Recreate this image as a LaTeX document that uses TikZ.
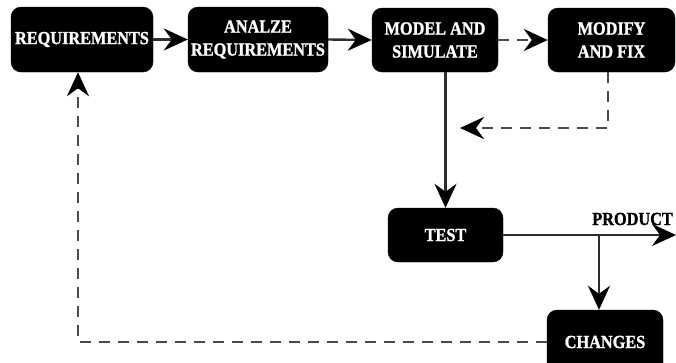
\documentclass[tikz,border=0pt]{standalone}
\usepackage{fontspec}
\setmainfont{Liberation Serif}
\newfontfamily\boxfont[FakeStretch=0.88,FakeBold=1.2]{Liberation Serif Bold}
\usetikzlibrary{arrows.meta}
\definecolor{linegray}{HTML}{2E2E2E}
\definecolor{dashgray}{HTML}{4A4A4A}
\tikzset{
  stepbox/.style={draw=black, fill=black, rounded corners=10pt, text=white,
    font=\boxfont\fontsize{18.5}{23}\selectfont, align=center, inner sep=0pt},
  flow/.style={draw=linegray, line width=2.4pt, -{Stealth[length=24pt,width=22pt,inset=8pt,black]}},
  back/.style={draw=dashgray, line width=2.6pt, dash pattern=on 11pt off 8pt,
    -{Stealth[length=24pt,width=22pt,inset=8pt,black]}}
}
\begin{document}
\begin{tikzpicture}[x=1pt,y=-1pt]
\useasboundingbox (0,0) rectangle (676,362);
\begin{scope}
\clip (0,0) rectangle (676,362);
\node[stepbox, minimum width=142pt, minimum height=65pt] (req) at (82,39.5) {REQUIREMENTS};
\node[stepbox, minimum width=140pt, minimum height=65pt] (ana) at (258,39.5) {ANALZE\\REQUIREMENTS};
\node[stepbox, minimum width=126pt, minimum height=64pt] (mod) at (435,40) {MODEL AND\\SIMULATE};
\node[stepbox, minimum width=127pt, minimum height=64pt] (fix) at (611.5,40) {MODIFY\\AND FIX};
\node[stepbox, minimum width=115pt, minimum height=54pt] (test) at (445.5,235) {TEST};
\node[stepbox, minimum width=116pt, minimum height=64pt] (chg) at (605,342) {CHANGES};
\coordinate (fixret) at (460,128);
\coordinate (prod) at (676,235);
\coordinate (br) at (599,235);
\node[anchor=base east, font=\boxfont\fontsize{18.5}{22}\selectfont, inner sep=0pt] (prodlabel) at (673,225) {PRODUCT};

\draw[flow] (req.east) -- (ana.west);
\draw[flow] (ana.east) -- (mod.west);
\draw[back] (mod.east) -- (fix.west);
\draw[flow] (test.north |- mod.south) -- (test.north);
\draw[back] ([xshift=-3.5pt]fix.south) |- (fixret);
\draw[flow] (test.east) -- (prod);
\draw[flow] (br) -- (br |- chg.north);
\draw[back] (chg.west) -| ([xshift=-4pt]req.south);
\end{scope}
\end{tikzpicture}
\end{document}
